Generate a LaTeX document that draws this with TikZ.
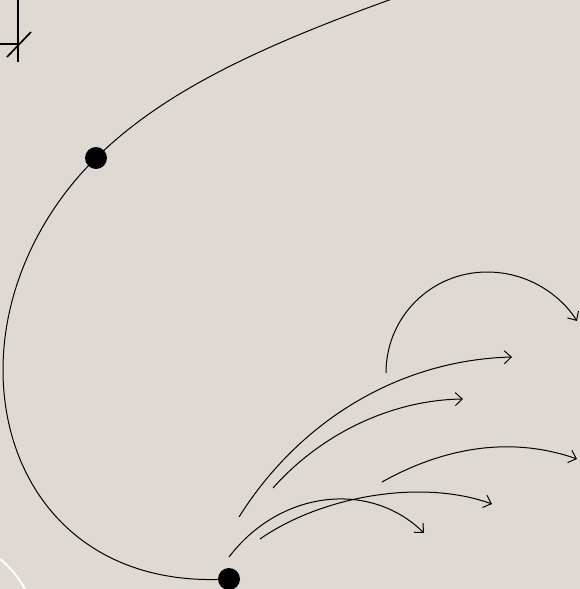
\documentclass[tikz,border=0pt]{standalone}
\usepackage{xcolor}
\definecolor{sand}{HTML}{DFD9D3}
\definecolor{ink}{HTML}{000000}
\usepackage{tikz}
\usetikzlibrary{arrows.meta}
\tikzset{
  >={Straight Barb[length=7pt,width=13pt]},
  dot/.style    ={circle,fill=ink,inner sep=0pt,minimum size=22pt},
  orbit/.style  ={draw=ink,line width=1pt},
  fan/.style    ={->,draw=ink,line width=1pt},
  tick/.style   ={draw=ink,line width=1.7pt},
  halo/.style   ={draw=white,line width=2pt},
}

\begin{document}
\begin{tikzpicture}[x=1pt,y=-1pt]
% background
\fill[sand] (0,0) rectangle (580,589);
\useasboundingbox (0,0) rectangle (580,589);
% corner marks
\coordinate (vt) at (18,0);
\coordinate (vb) at (18,62);
\coordinate (hl) at (0,44);
\coordinate (hr) at (18,44);
\coordinate (dl) at (7,57);
\coordinate (dr) at (31,32);
\draw[tick] (vt) -- (vb);
\draw[tick] (hl) -- (hr);
\draw[tick] (dl) -- (dr);
\coordinate (w1) at (0,559);
\coordinate (w2) at (25,589);
\draw[halo] (w1) .. controls (10,567) and (19,578) .. (w2);
% orbit with its two dots
\node[dot] (top) at (96,158) {};
\node[dot] (low) at (229,579) {};
\coordinate (o0) at (392,-1);
\coordinate (ol) at (3,370);
\draw[orbit] (o0) .. controls (250,50) and (160,95) .. (top.center)
  .. controls (40,213) and (3,290) .. (ol)
  .. controls (3,485) and (80,588) .. (low.center);
% fan of arrows
\coordinate (a0) at (386,373);
\coordinate (am) at (487,272);
\coordinate (a1) at (577,321);
\coordinate (b0) at (239,517);
\coordinate (b1) at (512,357);
\coordinate (c0) at (273,488);
\coordinate (c1) at (463,399);
\coordinate (d0) at (382,482);
\coordinate (d1) at (577,459);
\coordinate (e0) at (260,539);
\coordinate (e1) at (492,504);
\coordinate (f0) at (229,557);
\coordinate (f1) at (424,533);
\draw[fan] (a0) .. controls (386,316) and (432,272) .. (am)
  .. controls (530,272) and (562,297) .. (a1);
\draw[fan] (b0) .. controls (300,420) and (400,360) .. (b1);
\draw[fan] (c0) .. controls (320,435) and (390,400) .. (c1);
\draw[fan] (d0) .. controls (430,455) and (500,432) .. (d1);
\draw[fan] (e0) .. controls (320,497) and (420,478) .. (e1);
\draw[fan] (f0) .. controls (280,490) and (370,480) .. (f1);
\end{tikzpicture}
\end{document}
